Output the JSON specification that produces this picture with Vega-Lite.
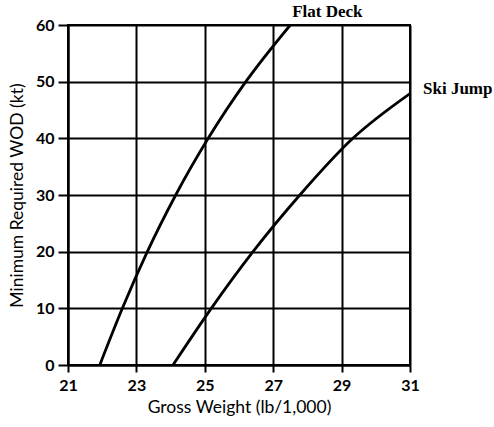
{
  "$schema": "https://vega.github.io/schema/vega-lite/v6.json",
  "width": 342,
  "height": 340,
  "autosize": {"type": "none"},
  "padding": {"left": 68, "top": 25, "right": 84, "bottom": 62},
  "background": "white",
  "config": {
    "view": {"stroke": "black", "strokeWidth": 2},
    "font": "Lato"
  },
  "datasets": {
    "curves": [
      {"series": "Flat Deck", "w": 21.93, "wod": 0},
      {"series": "Flat Deck", "w": 22.59, "wod": 10},
      {"series": "Flat Deck", "w": 23.32, "wod": 20},
      {"series": "Flat Deck", "w": 24.15, "wod": 30},
      {"series": "Flat Deck", "w": 25.1, "wod": 40},
      {"series": "Flat Deck", "w": 26.2, "wod": 50},
      {"series": "Flat Deck", "w": 27.5, "wod": 60},
      {"series": "Ski Jump", "w": 24.07, "wod": 0},
      {"series": "Ski Jump", "w": 25.19, "wod": 10},
      {"series": "Ski Jump", "w": 26.41, "wod": 20},
      {"series": "Ski Jump", "w": 27.78, "wod": 30},
      {"series": "Ski Jump", "w": 29.33, "wod": 40},
      {"series": "Ski Jump", "w": 31.0, "wod": 47.9}
    ]
  },
  "data": {"name": "curves"},
  "layer": [
    {
      "mark": {"type": "line", "color": "black", "strokeWidth": 2.8, "interpolate": "monotone", "clip": true},
      "encoding": {
        "x": {
          "field": "w", "type": "quantitative",
          "scale": {"domain": [21, 31], "nice": false, "zero": false},
          "axis": {
            "title": "Gross Weight (lb/1,000)",
            "values": [21, 22, 23, 24, 25, 26, 27, 28, 29, 30, 31],
            "labelExpr": "datum.value % 2 == 1 ? datum.label : ''",
            "labelFont": "Lato", "labelFontSize": 16, "labelFontWeight": "bold", "labelColor": "black",
            "labelPadding": 5, "labelFlush": false,
            "titleFont": "Lato", "titleFontSize": 17.5, "titleFontWeight": "normal", "titleColor": "black",
            "titlePadding": 5,
            "domainColor": "black", "domainWidth": 2,
            "tickColor": "black", "tickWidth": 2,
            "tickSize": {"condition": {"test": "datum.value % 2 == 1", "value": 7}, "value": 4},
            "grid": true, "gridColor": "black", "gridWidth": 2,
            "gridOpacity": {"condition": {"test": "datum.value % 2 == 1", "value": 1}, "value": 0}
          }
        },
        "y": {
          "field": "wod", "type": "quantitative",
          "scale": {"domain": [0, 60], "nice": false},
          "axis": {
            "title": "Minimum Required WOD (kt)",
            "values": [0, 5, 10, 15, 20, 25, 30, 35, 40, 45, 50, 55, 60],
            "labelExpr": "datum.value % 10 == 0 ? datum.label : ''",
            "labelFont": "Lato", "labelFontSize": 16, "labelFontWeight": "bold", "labelColor": "black",
            "labelPadding": 4, "labelFlush": false,
            "titleFont": "Lato", "titleFontSize": 17.5, "titleFontWeight": "normal", "titleColor": "black",
            "titlePadding": 9,
            "domainColor": "black", "domainWidth": 2,
            "tickColor": "black", "tickWidth": 2,
            "tickSize": {"condition": {"test": "datum.value % 10 == 0", "value": 10}, "value": 3},
            "grid": true, "gridColor": "black", "gridWidth": 2,
            "gridOpacity": {"condition": {"test": "datum.value % 10 == 0", "value": 1}, "value": 0}
          }
        },
        "detail": {"field": "series"}
      }
    },
    {
      "transform": [{"filter": "datum.series == 'Flat Deck' && datum.wod == 60"}],
      "mark": {"type": "text", "font": "Liberation Serif", "fontSize": 17, "fontWeight": "bold", "color": "black", "align": "center", "baseline": "middle", "dx": 37, "dy": -13},
      "encoding": {
        "x": {"field": "w", "type": "quantitative"},
        "y": {"field": "wod", "type": "quantitative"},
        "text": {"field": "series"}
      }
    },
    {
      "transform": [{"filter": "datum.series == 'Ski Jump' && datum.w == 31"}],
      "mark": {"type": "text", "font": "Liberation Serif", "fontSize": 17, "fontWeight": "bold", "color": "black", "align": "left", "baseline": "middle", "dx": 13, "dy": -5},
      "encoding": {
        "x": {"field": "w", "type": "quantitative"},
        "y": {"field": "wod", "type": "quantitative"},
        "text": {"field": "series"}
      }
    }
  ]
}
